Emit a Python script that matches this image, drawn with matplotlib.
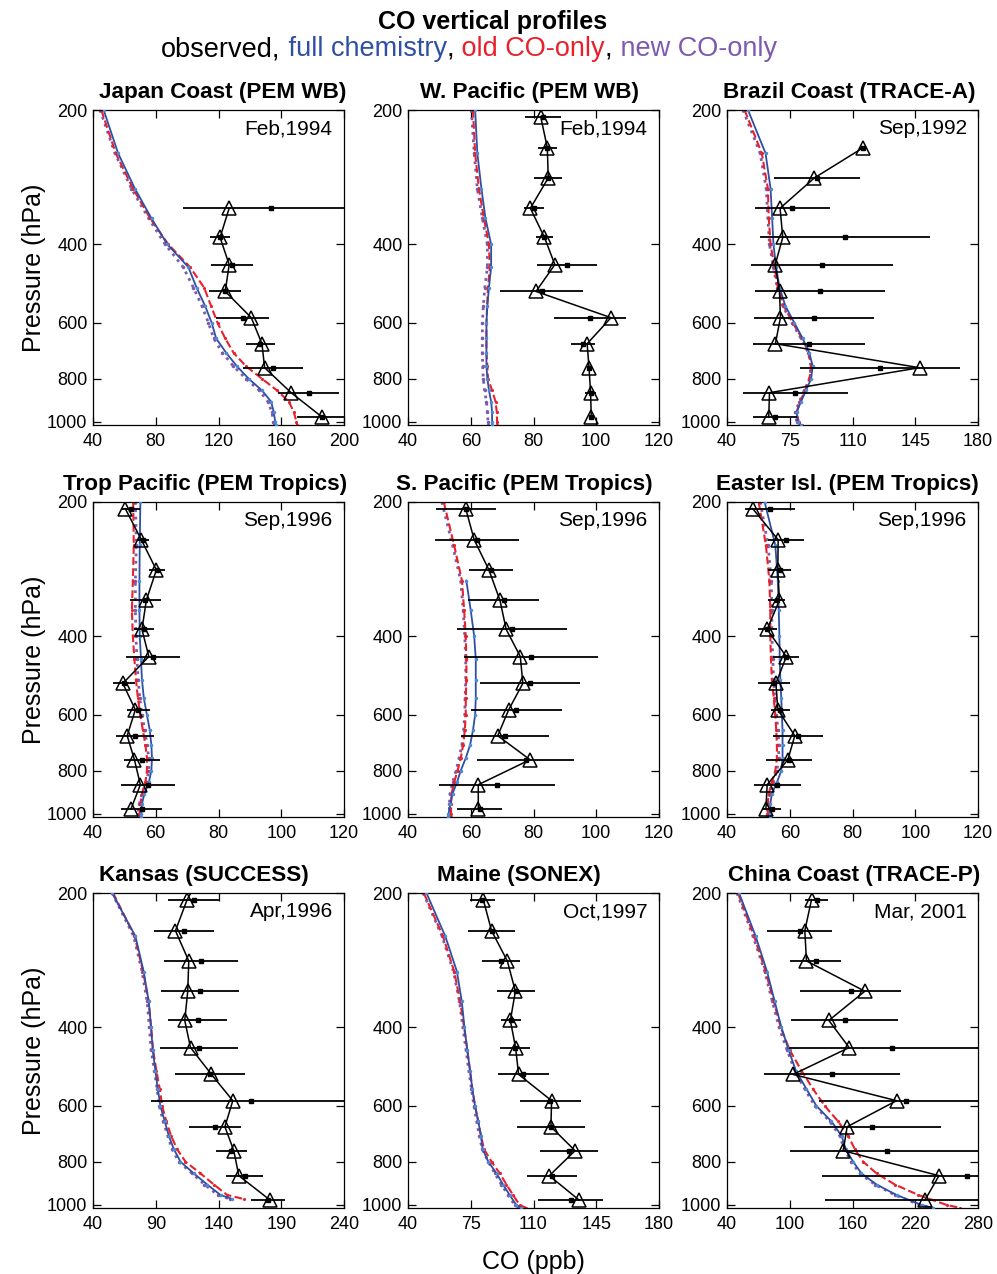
import numpy as np
import matplotlib

matplotlib.use("Agg")
import matplotlib.pyplot as plt
from matplotlib.ticker import FixedLocator, FixedFormatter, NullLocator

plt.rcParams["font.family"] = ["Liberation Sans", "DejaVu Sans"]

NAN = np.nan

# pressure levels (hPa)
P_MODEL = [200, 250, 300, 350, 400, 450, 500, 550, 600, 650, 700, 750, 800, 850, 900, 950, 1000, 1015]
P_MODEL_KANSAS = [200, 250, 300, 350, 400, 450, 500, 550, 600, 650, 700, 750, 800, 850, 900, 950, 970]
P_OBS = [207, 243, 284, 332, 386, 444, 510, 584, 668, 756, 860, 975]
P_OBS_KANSAS = [180, 207, 243, 284, 332, 386, 444, 510, 584, 668, 756, 860, 975]

# Japan Coast (PEM WB)
JAPAN_FULL = [46.8, 56.0, 66.7, 77.3, 87.4, 100.8, 106.0, 111.5, 115.7, 118.5, 124.9, 131.7, 139.2, 147.7, 153.5, 155.2, 156.2, 156.7]
JAPAN_OLD = [45.3, 54.5, 65.5, 76.5, 88.0, 101.9, 110.8, 115.3, 119.4, 124.3, 129.6, 137.5, 147.7, 157.3, 164.8, 168.0, 169.7, 170.1]
JAPAN_NEW = [44.5, 54.0, 64.5, 75.5, 86.0, 97.5, 104.0, 109.5, 113.6, 117.0, 122.5, 129.5, 137.5, 146.0, 151.5, 154.0, 155.0, 155.5]
JAPAN_MED = [NAN, NAN, NAN, 126.8, 121.0, 126.8, 124.3, 140.9, 147.7, 149.4, 166.3, 186.0]
JAPAN_MEAN = [NAN, NAN, NAN, 153.5, 121.0, 128.6, 124.3, 135.3, 146.7, 154.8, 177.4, 186.0]
JAPAN_SD = [NAN, NAN, NAN, 56.3, 6.2, 13.3, 10.3, 17.0, 9.3, 19.0, 19.7, 16.0]

# W. Pacific (PEM WB)
WPAC_FULL = [61.4, 62.1, 63.4, 64.7, 66.5, 66.5, 65.8, 65.3, 65.0, 65.0, 65.0, 65.0, 65.3, 65.8, 66.5, 66.8, 66.8, 66.8]
WPAC_OLD = [60.7, 61.4, 62.6, 64.2, 65.8, 66.1, 65.5, 65.2, 65.0, 65.0, 65.0, 65.3, 65.5, 66.8, 67.9, 68.3, 68.4, 68.4]
WPAC_NEW = [60.2, 61.1, 62.1, 63.7, 65.3, 65.3, 64.5, 64.0, 63.7, 63.7, 63.7, 63.8, 64.0, 64.4, 65.0, 65.3, 65.5, 65.5]
WPAC_MED = [82.3, 84.4, 84.7, 79.0, 83.5, 86.8, 80.8, 104.7, 97.1, 97.7, 98.2, 98.4]
WPAC_MEAN = [83.0, 84.4, 84.7, 80.3, 83.5, 90.7, 82.6, 98.1, 95.8, 97.7, 98.2, 98.4]
WPAC_SD = [5.7, 3.1, 4.4, 3.2, 2.7, 9.5, 13.2, 11.5, 3.7, 0.8, 1.7, 0.8]

# Brazil Coast (TRACE-A)
BRAZIL_FULL = [51.7, 61.5, 64.3, 65.2, 65.9, 67.4, 69.3, 72.6, 77.6, 82.2, 85.9, 87.8, 86.9, 84.1, 81.3, 78.9, 79.4, 81.3]
BRAZIL_OLD = [49.8, 59.4, 62.8, 63.3, 64.3, 66.5, 68.3, 71.7, 76.7, 81.9, 85.6, 86.9, 86.0, 83.7, 80.7, 78.9, 80.0, 81.9]
BRAZIL_NEW = [48.9, 58.5, 61.9, 62.8, 63.7, 65.9, 68.0, 71.1, 76.3, 81.3, 85.4, 86.9, 86.0, 83.1, 80.4, 78.1, 78.9, 80.4]
BRAZIL_MED = [NAN, 115.9, 88.7, 69.6, 71.1, 66.9, 69.3, 69.8, 67.0, 147.4, 63.7, 63.3]
BRAZIL_MEAN = [NAN, 115.9, 90.2, 76.4, 106.0, 93.0, 91.9, 88.4, 85.6, 125.5, 78.2, 66.7]
BRAZIL_SD = [NAN, 2.0, 24.0, 21.0, 47.5, 39.4, 36.5, 33.6, 31.3, 44.7, 29.4, 12.2]

# Trop Pacific (PEM Tropics)
TROP_FULL = [55.1, 54.9, 54.8, 54.8, 54.9, 55.3, 55.6, 56.2, 57.2, 58.1, 58.6, 58.8, 58.6, 57.8, 56.4, 55.6, 55.4, 55.4]
TROP_OLD = [52.8, 53.0, 52.7, 52.4, 52.7, 53.2, 53.7, 54.3, 55.1, 55.9, 56.7, 57.2, 57.2, 56.7, 55.6, 55.1, 54.9, 54.9]
TROP_NEW = [53.5, 53.8, 53.5, 53.5, 53.7, 54.0, 54.4, 54.9, 55.6, 56.5, 57.2, 57.8, 57.8, 57.0, 55.6, 54.8, 54.3, 54.3]
TROP_MED = [50.3, 55.4, 60.2, 57.0, 55.6, 57.8, 49.5, 53.5, 50.9, 53.2, 55.1, 52.1]
TROP_MEAN = [52.1, 55.9, 60.4, 56.7, 56.3, 59.1, 49.9, 54.5, 53.4, 55.6, 57.5, 55.5]
TROP_SD = [2.8, 1.9, 2.7, 5.0, 3.3, 8.7, 3.6, 3.6, 6.0, 5.7, 8.6, 6.5]

# S. Pacific (PEM Tropics)
SPAC_FULL = [NAN, NAN, 58.6, 60.0, 61.1, 61.6, 61.6, 61.6, 61.4, 60.7, 59.8, 58.4, 56.8, 55.6, 54.2, 53.5, 52.9, 52.8]
SPAC_OLD = [51.4, 54.7, 57.2, 57.9, 58.4, 58.6, 58.6, 58.4, 58.4, 58.1, 57.6, 56.8, 55.8, 54.7, 53.9, 53.7, 53.7, 53.7]
SPAC_NEW = [50.8, 54.2, 56.8, 57.6, 58.1, 58.4, 58.4, 58.2, 58.1, 57.7, 57.2, 56.3, 55.3, 54.2, 53.4, 53.2, 53.2, 53.2]
SPAC_MED = [58.4, 61.1, 65.8, 69.3, 71.3, 75.8, 76.6, 72.1, 68.6, 78.9, 62.4, 62.4]
SPAC_MEAN = [58.4, 62.0, 66.4, 70.5, 73.1, 79.1, 78.8, 74.5, 70.9, 77.5, 68.4, 62.8]
SPAC_SD = [9.5, 13.3, 7.0, 11.3, 17.6, 21.4, 15.9, 14.5, 14.1, 15.4, 18.6, 7.3]

# Easter Isl. (PEM Tropics)
EASTER_FULL = [52.0, 55.4, 56.2, 56.5, 56.7, 56.8, 57.0, 57.3, 57.5, 57.7, 57.7, 57.7, 57.3, 55.9, 54.3, 53.8, 53.6, 53.6]
EASTER_OLD = [50.1, 52.4, 53.5, 53.8, 53.8, 54.0, 54.3, 54.9, 55.4, 55.7, 55.9, 55.9, 55.4, 54.3, 53.3, 53.0, 53.0, 53.0]
EASTER_NEW = [50.6, 53.1, 54.1, 54.3, 54.3, 54.6, 54.9, 55.2, 55.7, 56.3, 56.5, 56.5, 55.9, 54.6, 53.5, 53.0, 52.8, 52.8]
EASTER_MED = [48.2, 56.3, 56.2, 56.7, 52.8, 58.9, 55.6, 56.2, 61.6, 59.4, 52.8, 52.4]
EASTER_MEAN = [53.7, 58.8, 56.8, 55.9, 52.9, 58.9, 55.0, 57.0, 62.7, 59.8, 56.0, 54.2]
EASTER_SD = [8.1, 5.7, 3.6, 2.7, 3.0, 4.2, 5.0, 3.0, 8.0, 7.3, 7.5, 3.0]

# Kansas (SUCCESS)
KANSAS_FULL = [55.2, 73.8, 80.4, 84.4, 86.3, 87.6, 89.7, 91.6, 93.7, 97.2, 100.4, 104.4, 109.7, 120.3, 131.0, 141.6, 150.9]
KANSAS_OLD = [56.0, 73.2, 79.9, 84.4, 86.3, 87.9, 90.5, 93.2, 95.1, 98.5, 102.2, 107.0, 113.7, 125.6, 136.3, 146.9, 160.2]
KANSAS_NEW = [55.2, 72.4, 79.1, 83.1, 84.9, 86.3, 88.9, 91.1, 92.9, 95.9, 99.6, 103.0, 108.4, 119.0, 128.8, 139.5, 149.0]
KANSAS_MED = [127.0, 115.0, 105.7, 116.3, 115.5, 113.1, 117.7, 134.4, 151.4, 145.1, 152.2, 156.2, 181.0]
KANSAS_MEAN = [NAN, 120.4, 112.9, 125.9, 125.6, 123.3, 124.6, 133.0, 166.1, 137.3, 150.3, 160.9, 179.4]
KANSAS_SD = [NAN, 20.7, 23.9, 29.5, 31.1, 23.7, 30.9, 27.8, 79.8, 21.0, 12.6, 14.8, 13.3]

# Maine (SONEX)
MAINE_FULL = [50.3, 60.8, 67.3, 70.0, 71.5, 73.1, 74.6, 75.9, 77.4, 79.2, 80.7, 81.6, 84.8, 89.4, 93.0, 96.7, 100.4, 103.2]
MAINE_OLD = [48.8, 59.5, 65.8, 69.1, 71.3, 73.1, 74.6, 75.9, 77.4, 79.2, 80.7, 82.4, 86.6, 91.2, 94.9, 98.6, 102.2, 105.9]
MAINE_NEW = [48.5, 59.0, 65.4, 68.7, 70.6, 72.4, 73.9, 75.4, 76.8, 78.3, 79.8, 81.4, 84.8, 88.4, 92.1, 95.8, 99.5, 102.2]
MAINE_MED = [82.0, 86.6, 95.4, 99.9, 97.1, 100.0, 101.7, 120.1, 119.7, 133.2, 118.8, 135.4]
MAINE_MEAN = [81.5, 86.8, 92.0, 100.4, 97.4, 99.5, 104.4, 119.4, 120.0, 130.0, 120.3, 130.7]
MAINE_SD = [6.9, 13.1, 10.6, 10.7, 5.8, 8.3, 14.1, 17.2, 19.0, 16.1, 13.8, 18.0]

# China Coast (TRACE-P)
CHINA_FULL = [51.5, 67.4, 78.3, 85.6, 92.0, 99.0, 105.8, 116.0, 125.5, 139.9, 149.5, 153.6, 160.6, 168.6, 183.0, 202.1, 226.0, 237.3]
CHINA_OLD = [50.5, 65.9, 77.0, 84.7, 91.4, 100.0, 111.2, 122.3, 133.5, 146.3, 155.9, 162.2, 170.2, 183.0, 200.5, 222.9, 250.0, 262.8]
CHINA_NEW = [49.6, 64.9, 76.1, 83.4, 89.8, 97.5, 104.8, 114.4, 124.0, 138.3, 147.9, 152.0, 159.0, 167.0, 181.4, 200.5, 224.5, 234.0]
CHINA_MED = [120.8, 114.4, 116.0, 171.8, 137.4, 156.8, 103.2, 202.1, 154.9, 151.1, 242.7, 229.3]
CHINA_MEAN = [125.6, 109.4, 125.0, 158.1, 152.4, 198.0, 140.4, 210.8, 178.9, 193.2, 269.2, 288.0]
CHINA_SD = [11.2, 31.1, 24.4, 47.9, 51.4, 98.6, 65.0, 83.0, 65.5, 92.6, 137.9, 154.5]

TITLES = [
    "Japan Coast (PEM WB)", "W. Pacific (PEM WB)", "Brazil Coast (TRACE-A)",
    "Trop Pacific (PEM Tropics)", "S. Pacific (PEM Tropics)", "Easter Isl. (PEM Tropics)",
    "Kansas (SUCCESS)", "Maine (SONEX)", "China Coast (TRACE-P)",
]
DATES = ["Feb,1994", "Feb,1994", "Sep,1992", "Sep,1996", "Sep,1996", "Sep,1996",
         "Apr,1996", "Oct,1997", "Mar, 2001"]
XTICKS = [
    [40, 80, 120, 160, 200], [40, 60, 80, 100, 120], [40, 75, 110, 145, 180],
    [40, 60, 80, 100, 120], [40, 60, 80, 100, 120], [40, 60, 80, 100, 120],
    [40, 90, 140, 190, 240], [40, 75, 110, 145, 180], [40, 100, 160, 220, 280],
]

PANELS = [
    (P_MODEL, JAPAN_FULL, JAPAN_OLD, JAPAN_NEW, P_OBS, JAPAN_MED, JAPAN_MEAN, JAPAN_SD),
    (P_MODEL, WPAC_FULL, WPAC_OLD, WPAC_NEW, P_OBS, WPAC_MED, WPAC_MEAN, WPAC_SD),
    (P_MODEL, BRAZIL_FULL, BRAZIL_OLD, BRAZIL_NEW, P_OBS, BRAZIL_MED, BRAZIL_MEAN, BRAZIL_SD),
    (P_MODEL, TROP_FULL, TROP_OLD, TROP_NEW, P_OBS, TROP_MED, TROP_MEAN, TROP_SD),
    (P_MODEL, SPAC_FULL, SPAC_OLD, SPAC_NEW, P_OBS, SPAC_MED, SPAC_MEAN, SPAC_SD),
    (P_MODEL, EASTER_FULL, EASTER_OLD, EASTER_NEW, P_OBS, EASTER_MED, EASTER_MEAN, EASTER_SD),
    (P_MODEL_KANSAS, KANSAS_FULL, KANSAS_OLD, KANSAS_NEW, P_OBS_KANSAS, KANSAS_MED, KANSAS_MEAN, KANSAS_SD),
    (P_MODEL, MAINE_FULL, MAINE_OLD, MAINE_NEW, P_OBS, MAINE_MED, MAINE_MEAN, MAINE_SD),
    (P_MODEL, CHINA_FULL, CHINA_OLD, CHINA_NEW, P_OBS, CHINA_MED, CHINA_MEAN, CHINA_SD),
]

BLUE = "#2E4FA3"
BLUE_DOT = "#4A8AD8"
RED = "#E8212B"
PURPLE = "#7E5AAE"

W, H = 997, 1274
fig = plt.figure(figsize=(W / 100, H / 100), dpi=100)

col_left = [93, 408, 727]
row_top = [110, 502, 893]
ax_w, ax_h = 251, 315
# title centres in pixels, as placed in the original figure
title_cx = [223, 530, 849, 205, 524, 847, 204, 519, 854]

for i, (pm, full, old, new, po, med, mean, sd) in enumerate(PANELS):
    r, c = divmod(i, 3)
    ax = fig.add_axes([col_left[c] / W, 1 - (row_top[r] + ax_h) / H, ax_w / W, ax_h / H])
    ax.set_yscale("log")

    ax.plot(new, pm, color=PURPLE, linestyle=":", linewidth=2.0, marker=".", markersize=3, zorder=2)
    ax.plot(old, pm, color=RED, linestyle="--", linewidth=1.5, marker=".", markersize=2.5, zorder=2)
    ax.plot(full, pm, color=BLUE, linestyle="-", linewidth=1.3, marker=".", markersize=3,
            markerfacecolor=BLUE_DOT, markeredgecolor=BLUE_DOT, zorder=3)

    ax.errorbar(mean, po, xerr=sd, fmt="s", color="black", markersize=3.2,
                elinewidth=1.3, capsize=0, zorder=4)
    ax.plot(med, po, color="black", linewidth=1.1, marker="^", markersize=9.5,
            markerfacecolor="none", markeredgecolor="black", markeredgewidth=1.1, zorder=5)

    ax.set_xlim(XTICKS[i][0], XTICKS[i][-1])
    ax.set_ylim(1016, 200)
    ax.xaxis.set_major_locator(FixedLocator(XTICKS[i]))
    ax.yaxis.set_major_locator(FixedLocator([200, 400, 600, 800, 1000]))
    ax.yaxis.set_major_formatter(FixedFormatter(["200", "400", "600", "800", "1000"]))
    ax.yaxis.set_minor_locator(NullLocator())
    ax.tick_params(direction="in", top=True, right=True, length=5.5, width=0.9, labelsize=13)
    ax.tick_params(axis="x", pad=6)
    ax.tick_params(axis="y", pad=4)
    for spine in ax.spines.values():
        spine.set_linewidth(0.9)

    ax.set_title(TITLES[i], fontsize=16.2, fontweight="bold", pad=8.5,
                 x=(title_cx[i] - col_left[c]) / ax_w)
    ax.text(0.955, 0.94, DATES[i], transform=ax.transAxes, ha="right", va="center", fontsize=15)

    if c == 0:
        ax.set_ylabel("Pressure (hPa)", fontsize=18, labelpad=1)
    if r == 2 and c == 1:
        ax.set_xlabel("CO (ppb)", fontsize=18, labelpad=12)

# title and coloured subtitle
fig.text(493 / W, 1 - 22 / H, "CO vertical profiles", ha="center", va="center",
         fontsize=18, fontweight="bold")

pieces = [("observed,", "black"), (" full chemistry", BLUE), (",", "black"),
          (" old CO-only", RED), (",", "black"), (" new CO-only", PURPLE)]
renderer = fig.canvas.get_renderer()
texts = []
for s, col in pieces:
    t = fig.text(0, 1 - 49 / H, s, color=col, fontsize=19.5, ha="left", va="center")
    texts.append(t)
widths = [t.get_window_extent(renderer).width for t in texts]
x = 469 - sum(widths) / 2
for t, wpx in zip(texts, widths):
    t.set_x(x / W)
    x += wpx

fig.savefig("out.png", dpi=100)
